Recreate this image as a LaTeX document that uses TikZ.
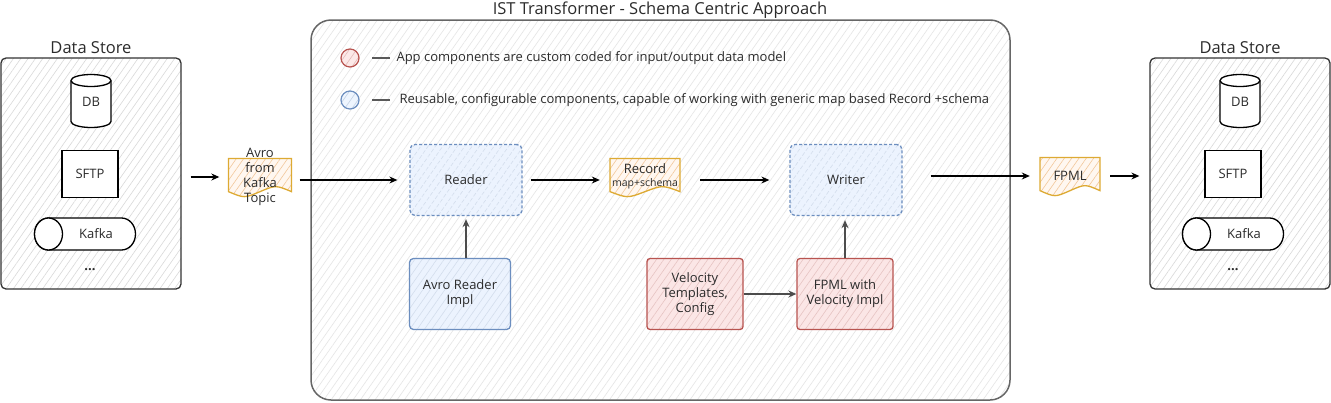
\documentclass[tikz,border=0pt]{standalone}
\usepackage{fontspec}
\setmainfont{Open Sans}
\usepackage{xcolor}
\usetikzlibrary{arrows.meta, patterns.meta, positioning, calc}

\definecolor{inkgray}{HTML}{2B2B2B}
\definecolor{bluefill}{HTML}{DAE8FC}
\definecolor{blueline}{HTML}{6C8EBF}
\definecolor{redfill}{HTML}{F8CECC}
\definecolor{redline}{HTML}{B85450}
\definecolor{docline}{HTML}{DDAA33}
\definecolor{dochatch}{HTML}{F2C79A}

% wavy document shape: centre x, centre y, width, height
\newcommand{\wavedoc}[4]{%
  \draw[docbody] ({#1-#3/2},{#2-#4/2}) -- ({#1+#3/2},{#2-#4/2}) -- ({#1+#3/2},{#2+0.35*#4})
    .. controls ({#1+#3/4},{#2+0.18*#4}) and ({#1+#3/4},{#2+0.18*#4}) .. ({#1},{#2+0.35*#4})
    .. controls ({#1-#3/4},{#2+0.52*#4}) and ({#1-#3/4},{#2+0.52*#4}) .. ({#1-#3/2},{#2+0.35*#4}) -- cycle;
}
% upright cylinder: centre x, centre y, width, height
\newcommand{\dbshape}[4]{%
  \draw[cylline] ({#1-#3/2},{#2-#4/2+6}) -- ({#1-#3/2},{#2+#4/2-6})
    arc[start angle=180, end angle=0, x radius=#3/2, y radius=6] -- ({#1+#3/2},{#2-#4/2+6})
    arc[start angle=0, end angle=-180, x radius=#3/2, y radius=6] -- cycle;
  \draw[cylline] ({#1-#3/2},{#2-#4/2+6}) arc[start angle=180, end angle=0, x radius=#3/2, y radius=6];
}
% lying cylinder (queue): centre x, centre y, width, height
\newcommand{\queueshape}[4]{%
  \draw[cylline] ({#1-#3/2+14},{#2-#4/2}) -- ({#1+#3/2-14},{#2-#4/2})
    arc[start angle=-90, end angle=90, x radius=14, y radius=#4/2] -- ({#1-#3/2+14},{#2+#4/2})
    arc[start angle=90, end angle=270, x radius=14, y radius=#4/2] -- cycle;
  \draw[cylline] ({#1-#3/2+14},{#2}) ellipse[x radius=14, y radius=#4/2];
}

\tikzset{
  hatch/.style={pattern={Lines[angle=55,distance=6pt,line width=0.6pt]}, pattern color=#1},
  container/.style={draw=black!60, line width=1.5pt, rounded corners=20pt, preaction={fill=white}, hatch=black!10},
  storebox/.style={draw=black!80, line width=1.3pt, rounded corners=5pt, preaction={fill=white}, hatch=black!15},
  cylline/.style={draw=black, line width=1.3pt, fill=white},
  sftpbox/.style={draw=black, line width=1.3pt, fill=white, minimum width=56, minimum height=47},
  genbox/.style={draw=blueline, line width=1.3pt, dashed, dash pattern=on 3pt off 2pt, rounded corners=5pt,
    preaction={fill=bluefill!50}, hatch=blueline!30, minimum width=112, minimum height=71},
  implbox/.style={draw=blueline, line width=1.3pt, rounded corners=4pt,
    preaction={fill=bluefill!50}, hatch=blueline!30, minimum width=101, minimum height=71, align=center},
  custombox/.style={draw=redline, line width=1.3pt, rounded corners=3pt,
    preaction={fill=redfill!50}, hatch=redline!35, minimum width=96, minimum height=71, align=center},
  docbody/.style={draw=docline, line width=1.3pt, preaction={fill=orange!6}, hatch=dochatch},
  doctext/.style={align=center, inner sep=0pt},
  title/.style={font=\fontsize{16.5}{18}\selectfont, text=inkgray},
  flow/.style={-{Stealth[length=8pt,width=7pt]}, line width=1.1pt, draw=black},
  link/.style={flow, line width=1.6pt, draw=black!70},
  legline/.style={line width=1.3pt, draw=black!65},
}

\begin{document}
\begin{tikzpicture}[x=1pt, y=-1pt, font=\fontsize{13}{15}\selectfont, text=inkgray]
  \useasboundingbox (0,0) rectangle (1331,402);

  % Schema centric container
  \draw[container] (311,20) rectangle (1010,400);
  \node[title] (maintitle) at (660,10) {IST Transformer - Schema Centric Approach};

  % Legend
  \draw[redline, line width=1.2pt, preaction={fill=redfill!45}, hatch=redline!40] (350,58) circle (9) coordinate (legred);
  \draw[blueline, line width=1.2pt, preaction={fill=bluefill!45}, hatch=blueline!40] (350,100) circle (9) coordinate (legblue);
  \node[anchor=west] (legredtxt) at (393,58) {App components are custom coded for input/output data model};
  \node[anchor=west] (legbluetxt) at (396,100) {Reusable, configurable components, capable of working with generic map based Record +schema};
  \draw[legline, shorten <=22pt, shorten >=3pt] (legred) -- (legredtxt.west);
  \draw[legline, shorten <=22pt, shorten >=6pt] (legblue) -- (legbluetxt.west);

  % Data stores
  \foreach \sx/\tx/\kx/\nm in {91/90/85/l, 1240/1233/1233/r} {
    \node[storebox, minimum width=180, minimum height=231] (store\nm) at (\sx,173.5) {};
    \node[title] (storetitle\nm) at (\sx,48) {Data Store};
    \dbshape{\sx}{101}{40}{53}
    \node[minimum width=40, minimum height=53] (db\nm) at (\sx,101) {\raisebox{-10pt}{DB}};
    \node[sftpbox] (sftp\nm) at (\tx,174) {SFTP};
    \queueshape{\kx}{234}{101}{32}
    \node[minimum width=101, minimum height=32] (kafka\nm) at (\kx,234) {\hspace*{22pt}Kafka};
    \node (more\nm) at (\tx,270) {\textbf{...}};
  }

  % Documents
  \wavedoc{260}{178}{63}{39}
  \node[doctext, minimum width=63, minimum height=39] (avro) at (260,177) {Avro\\from\\Kafka\\Topic};
  \wavedoc{645}{178}{70}{39}
  \node[doctext, minimum width=70, minimum height=39] (record) at (645,176) {Record\\[-2pt]{\fontsize{10.5}{11}\selectfont map+schema}};
  \wavedoc{1070}{177}{60}{39}
  \node[doctext, minimum width=60, minimum height=39] (fpml) at (1070,176) {FPML};

  % Components
  \node[genbox] (reader) at (466,180) {Reader};
  \node[genbox] (writer) at (846,180) {Writer};
  \node[implbox] (avroimpl) at (460,294) {Avro Reader\\Impl};
  \node[custombox] (velocity) at (695,294) {Velocity\\Templates,\\Config};
  \node[custombox] (fpmlimpl) at (845,294) {FPML with\\Velocity Impl};

  % Flow
  \draw[flow, shorten <=9pt, shorten >=9pt] (storel.east |- avro.west) -- (avro.west);
  \draw[flow, shorten <=8pt, shorten >=12pt] (avro.east |- reader.west) -- (reader.west);
  \draw[flow, shorten <=8pt, shorten >=10pt] (reader.east) -- (reader.east -| record.west);
  \draw[flow, shorten <=20pt, shorten >=20pt] (record.east |- writer.west) -- (writer.west);
  \draw[flow, shorten <=28pt, shorten >=10pt] (writer.east |- fpml.west) -- (fpml.west);
  \draw[flow, shorten <=10pt, shorten >=10pt] (fpml.east) -- (fpml.east -| storer.west);
  \draw[link, shorten >=3pt] (avroimpl.north -| reader.south) -- (reader.south);
  \draw[link, shorten >=4pt] (fpmlimpl.north) -- (fpmlimpl.north |- writer.south);
  \draw[link] (velocity.east) -- (fpmlimpl.west);
\end{tikzpicture}
\end{document}
